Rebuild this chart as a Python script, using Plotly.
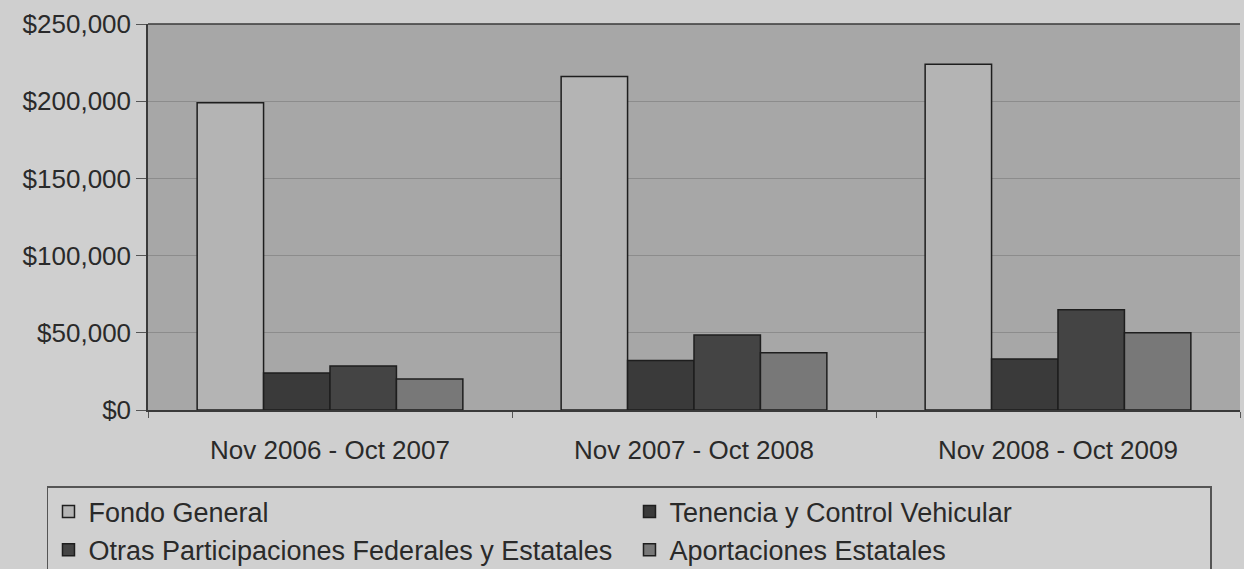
import plotly.graph_objects as go

periods = ["Nov 2006 - Oct 2007", "Nov 2007 - Oct 2008", "Nov 2008 - Oct 2009"]

fondo_general = [199000, 216000, 224000]
tenencia = [24000, 32000, 33000]
otras_participaciones = [28500, 48500, 65000]
aportaciones = [20000, 37000, 50000]

series = [
    ("Fondo General", fondo_general, "#b4b4b4"),
    ("Tenencia y Control Vehicular", tenencia, "#3a3a3a"),
    ("Otras Participaciones Federales y Estatales", otras_participaciones, "#444444"),
    ("Aportaciones Estatales", aportaciones, "#787878"),
]

font = dict(family="Arial", size=26, color="#2a2a2a")

fig = go.Figure()
for name, values, color in series:
    fig.add_trace(go.Bar(
        x=periods,
        y=values,
        name=name,
        marker=dict(color=color, line=dict(color="#1e1e1e", width=1.5)),
    ))

fig.update_layout(
    width=1244,
    height=569,
    margin=dict(l=148, r=4, t=24, b=159, autoexpand=False),
    paper_bgcolor="#cfcfcf",
    plot_bgcolor="#a7a7a7",
    font=font,
    barmode="group",
    bargap=0.27,
    bargroupgap=0,
    showlegend=True,
    legend=dict(
        orientation="h",
        x=-0.0925,
        xanchor="left",
        y=-0.197,
        yanchor="top",
        bgcolor="#d0d0d0",
        bordercolor="#555555",
        borderwidth=1.5,
        entrywidth=536,
        entrywidthmode="pixels",
        traceorder="normal",
        tracegroupgap=0,
        font=dict(family="Arial", size=27, color="#2a2a2a"),
    ),
)

fig.update_xaxes(
    showline=True,
    linecolor="#3a3a3a",
    linewidth=1.5,
    ticks="outside",
    tickson="boundaries",
    ticklen=6,
    tickcolor="#555555",
    ticklabelstandoff=16,
    showgrid=False,
    automargin=False,
)

fig.update_yaxes(
    range=[0, 250000],
    tickvals=[0, 50000, 100000, 150000, 200000, 250000],
    ticktext=["$0", "$50,000", "$100,000", "$150,000", "$200,000", "$250,000"],
    showline=True,
    linecolor="#3a3a3a",
    linewidth=1.5,
    mirror=False,
    ticks="outside",
    ticklen=10,
    tickcolor="#555555",
    showgrid=True,
    gridcolor="#8c8c8c",
    gridwidth=1,
    zeroline=False,
    automargin=False,
)

# top border of the plot area
fig.add_shape(type="line", xref="paper", yref="paper", x0=0, x1=1, y0=1, y1=1,
              line=dict(color="#3a3a3a", width=1.5))

fig.write_html(
    "out.html",
    config={"displayModeBar": False},
    post_script="document.body.style.margin='0';",
)
